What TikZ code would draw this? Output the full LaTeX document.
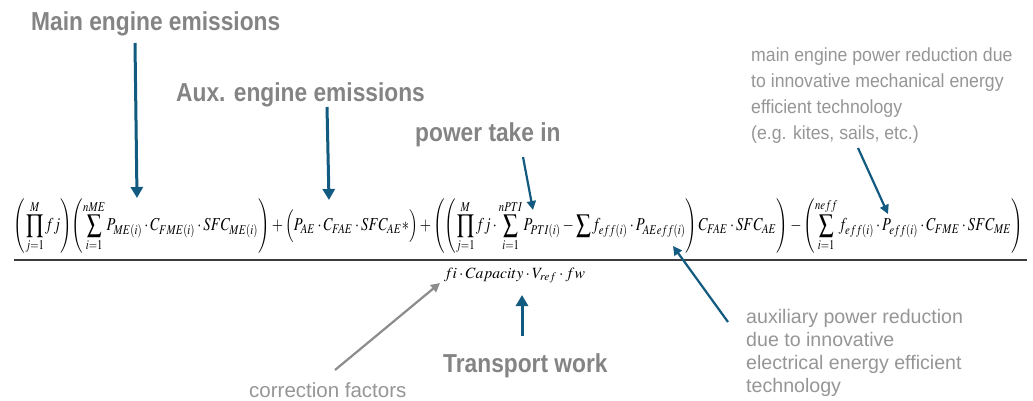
\documentclass[tikz,border=0pt]{standalone}
\usepackage{mathptmx}
\usepackage[no-math]{fontspec}
\usepackage{graphicx}
\setmainfont{Liberation Sans}
\newfontfamily\headfont[FakeStretch=0.875]{Liberation Sans}
\newfontfamily\notefont[FakeStretch=0.93]{Liberation Sans}
\usetikzlibrary{arrows.meta}

\definecolor{headgray}{RGB}{132,132,132}
\definecolor{notegray}{RGB}{150,150,150}
\definecolor{arrowblue}{RGB}{18,90,128}
\definecolor{arrowgray}{RGB}{140,140,140}
\definecolor{bargray}{RGB}{60,60,60}

\begin{document}
\begin{tikzpicture}[x=1pt, y=-1pt,
    head/.style={anchor=base west, inner sep=0pt, text=headgray, font=\headfont\bfseries\fontsize{26}{30}\selectfont},
    topnote/.style={anchor=north west, inner sep=0pt, align=left, text=notegray, font=\notefont\fontsize{19}{26}\selectfont},
    auxnote/.style={anchor=north west, inner sep=0pt, align=left, text=notegray, font=\fontsize{19.6}{23}\selectfont},
    bluearrow/.style={draw=arrowblue, line width=3pt, -{Triangle[width=12pt,length=11pt]}},
    slimarrow/.style={draw=arrowblue, line width=2.2pt, -{Triangle[width=9pt,length=9pt]}},
    grayarrow/.style={draw=arrowgray, line width=2.2pt, -{Triangle[width=9pt,length=9pt]}}]
  \useasboundingbox[fill=white] (0,0) rectangle (1033,401);

  % 1. formula: numerator, fraction bar, denominator
  \node[anchor=south, inner sep=0pt] (num) at (518.5,254) {\resizebox*{1009pt}{55pt}{$\medmuskip=2.5mu\thinmuskip=1.5mu\displaystyle
    \left(\prod_{j=1}^{M} fj\right)\!\left(\sum_{i=1}^{nME} P_{ME(i)}\cdot C_{FME(i)}\cdot SFC_{ME(i)}\right)
    +\Bigl(P_{AE}\cdot C_{FAE}\cdot SFC_{AE}{*}\Bigr)
    +\left(\left(\prod_{j=1}^{M} fj\cdot\sum_{i=1}^{nPTI} P_{PTI(i)}-\sum f_{eff(i)}\cdot P_{AEeff(i)}\right)C_{FAE}\cdot SFC_{AE}\right)
    -\left(\sum_{i=1}^{neff} f_{eff(i)}\cdot P_{eff(i)}\cdot C_{FME}\cdot SFC_{ME}\right)$}};
  \coordinate (barL) at (14,260);
  \coordinate (barR) at (1027,260);
  \draw[bargray, line width=1.5pt] (barL) -- (barR);
  \node[anchor=base, inner sep=0pt] (den) at (514.5,278) {\resizebox{141pt}{!}{$fi\cdot Capacity\cdot V_{ref}\cdot fw$}};

  % 2. labels
  \node[head] (mainlbl) at (31,31) {Main engine emissions};
  \node[head] (auxlbl) at (176,102) {Aux. engine emissions};
  \node[head] (ptilbl) at (415,142) {power take in};
  \node[head] (worklbl) at (443,372) {Transport work};
  \node[topnote] (mechlbl) at (751,48) {main engine power reduction due\\to innovative mechanical energy\\efficient technology\\(e.g. kites, sails, etc.)};
  \node[auxnote] (eleclbl) at (746,309) {auxiliary power reduction\\due to innovative\\electrical energy efficient\\technology};
  \node[anchor=base west, inner sep=0pt, text=notegray, font=\fontsize{20.5}{24}\selectfont] (corrlbl) at (249,397) {correction factors};

  % 3. arrow ends
  \coordinate (meTail) at (135,43);   \coordinate (meTip) at (137,198);
  \coordinate (aeTail) at (327,107);  \coordinate (aeTip) at (329,200);
  \coordinate (ptiTail) at (523,157); \coordinate (ptiTip) at (533,210);
  \coordinate (mechTail) at (858,148); \coordinate (mechTip) at (888,214);
  \coordinate (elecTail) at (728,322); \coordinate (elecTip) at (673,246);
  \coordinate (workTail) at (522,336); \coordinate (workTip) at (522,295);
  \coordinate (corrTail) at (335,370); \coordinate (corrTip) at (440,283);

  % 4. arrows
  \draw[bluearrow] (meTail) -- (meTip);
  \draw[bluearrow] (aeTail) -- (aeTip);
  \draw[slimarrow] (ptiTail) -- (ptiTip);
  \draw[slimarrow] (mechTail) -- (mechTip);
  \draw[slimarrow] (elecTail) -- (elecTip);
  \draw[bluearrow] (workTail) -- (workTip);
  \draw[grayarrow] (corrTail) -- (corrTip);
\end{tikzpicture}
\end{document}
